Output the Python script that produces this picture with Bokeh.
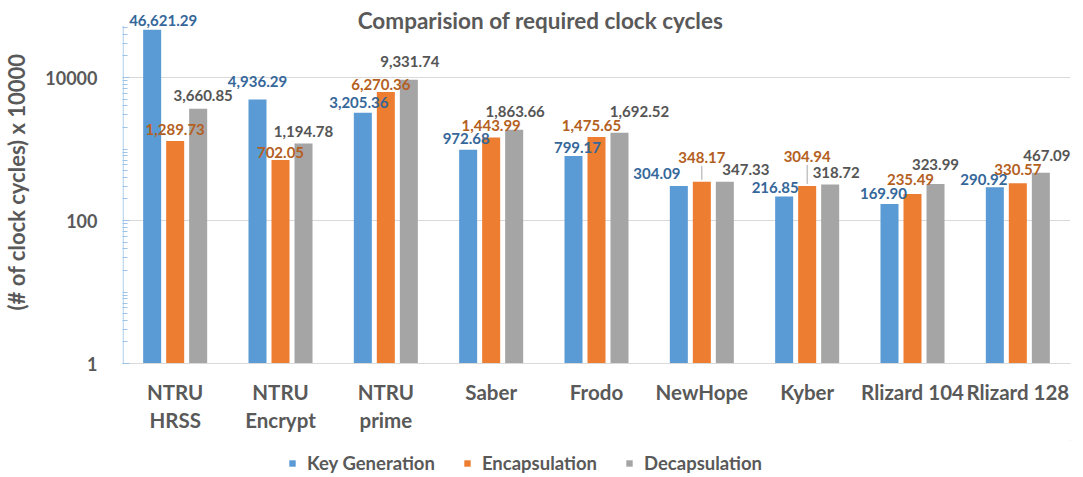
from bokeh.plotting import figure
from bokeh.layouts import column
from bokeh.models import (ColumnDataSource, FactorRange, Range1d, FixedTicker, LabelSet,
                          Label, Legend, LegendItem, BasicTickFormatter)
from bokeh.transform import dodge
from bokeh.core.properties import value
from bokeh.embed import file_html
from bokeh.resources import INLINE

# --- data -------------------------------------------------------------------
categories = ["NTRU\nHRSS", "NTRU\nEncrypt", "NTRU\nprime", "Saber", "Frodo",
              "NewHope", "Kyber", "Rlizard 104", "Rlizard 128"]
series_names = ["Key Generation", "Encapsulation", "Decapsulation"]
key_generation = [46621.29, 4936.29, 3205.36, 972.68, 799.17, 304.09, 216.85, 169.90, 290.92]
encapsulation = [1289.73, 702.05, 6270.36, 1443.99, 1475.65, 348.17, 304.94, 235.49, 330.57]
decapsulation = [3660.85, 1194.78, 9331.74, 1863.66, 1692.52, 347.33, 318.72, 323.99, 467.09]
y_ticks = [1, 100, 10000]
axis_top = 53000

# --- styling ----------------------------------------------------------------
FONT = "Lato"
TEXT = "#595959"
AXIS_BLUE = "#9dc3e6"
bar_colors = ["#5b9bd5", "#ed7d31", "#a5a5a5"]
label_colors = ["#35679a", "#b45f22", "#555555"]
bar_width = 0.171
shifts = [-0.2184, 0.0, 0.2184]

W = 1083
CHART_H, LEGEND_H = 440, 37
BORDER_L, BORDER_R, BORDER_B = 122, 13, 77
PX_PER_DECADE = 71.5
frame_h = CHART_H - BORDER_B
y_end = 10 ** (frame_h / PX_PER_DECADE)

# per-label nudges (pixels) so the value labels don't collide
label_dx = [
    [11, 0, -4, -2, 4, -22, -9, -6, -11],
    [0, 0, -5, 0, -5, 0, 0, -2, 0],
    [5, 0, 1, 1, 20, 21, 6, 0, 6],
]
label_dy = [
    [9, 18, 10, 11, 8, 12, 9, 11, 8],
    [12, 7, 7, 12, 11, 24, 29, 14, 14],
    [13, 12, 18, 18, 21, 12, 12, 19, 17],
]

p = figure(width=W, height=CHART_H, x_range=FactorRange(factors=categories, range_padding=0),
           y_range=Range1d(1, y_end), y_axis_type="log",
           output_backend="svg", toolbar_location=None,
           min_border_left=BORDER_L, min_border_right=BORDER_R, min_border_top=0,
           min_border_bottom=BORDER_B)
p.outline_line_color = None
p.background_fill_color = "white"
p.border_fill_color = "white"

renderers = []
for k, vals in enumerate([key_generation, encapsulation, decapsulation]):
    src = ColumnDataSource(dict(
        cat=categories, val=vals,
        txt=[f"{v:,.2f}" for v in vals],
        dx=label_dx[k], dy=label_dy[k],
    ))
    r = p.vbar(x=dodge("cat", shifts[k], range=p.x_range), top="val", bottom=1,
               width=bar_width, source=src, fill_color=bar_colors[k], line_color=None)
    renderers.append(r)
    p.add_layout(LabelSet(x=dodge("cat", shifts[k], range=p.x_range), y="val", text="txt",
                          x_offset="dx", y_offset="dy", source=src,
                          text_align="center", text_baseline="middle",
                          text_font=value(FONT), text_font_style="bold",
                          text_font_size="15px", text_color=label_colors[k]))

# leader lines for the labels lifted well above their bars
lead_idx = [5, 6]
lead_src = ColumnDataSource(dict(
    cat=[categories[i] for i in lead_idx],
    y0=[encapsulation[i] * 10 ** (2 / PX_PER_DECADE) for i in lead_idx],
    y1=[encapsulation[i] * 10 ** ((label_dy[1][i] - 8) / PX_PER_DECADE) for i in lead_idx],
))
p.segment(x0="cat", x1="cat", y0="y0", y1="y1", source=lead_src,
          line_color="#a6a6a6", line_width=1)

# value axis line, stopping at the top of the scale
p.segment(x0=[0.006], x1=[0.006], y0=[1], y1=[axis_top], line_color=AXIS_BLUE, line_width=1)

minor = [m * 10 ** d for d in range(5) for m in range(1, 10)
         if m * 10 ** d not in y_ticks and m * 10 ** d <= axis_top]
p.yaxis.ticker = FixedTicker(ticks=y_ticks, minor_ticks=minor)
p.yaxis.formatter = BasicTickFormatter(use_scientific=False)
p.yaxis.axis_line_color = None
p.yaxis.major_tick_line_color = AXIS_BLUE
p.yaxis.minor_tick_line_color = AXIS_BLUE
p.yaxis.major_tick_in = 7
p.yaxis.major_tick_out = 0
p.yaxis.minor_tick_in = 5
p.yaxis.minor_tick_out = 0
p.yaxis.major_label_text_font = FONT
p.yaxis.major_label_text_font_style = "bold"
p.yaxis.major_label_text_font_size = "18px"
p.yaxis.major_label_text_color = TEXT
p.yaxis.major_label_standoff = 25
p.yaxis.axis_label = "(# of clock cycles) x 10000"
p.yaxis.axis_label_text_font = FONT
p.yaxis.axis_label_text_font_style = "bold"
p.yaxis.axis_label_text_font_size = "22px"
p.yaxis.axis_label_text_color = TEXT
p.yaxis.axis_label_standoff = 12

p.xaxis.axis_line_color = "#d9d9d9"
p.xaxis.major_tick_line_color = None
p.xaxis.minor_tick_line_color = None
p.xaxis.major_label_text_font = FONT
p.xaxis.major_label_text_font_style = "bold"
p.xaxis.major_label_text_font_size = "20.5px"
p.xaxis.major_label_text_color = TEXT
p.xaxis.major_label_standoff = 10

p.xgrid.grid_line_color = None
p.ygrid.ticker = FixedTicker(ticks=[100, 10000])
p.ygrid.grid_line_color = "#d9d9d9"

# title (inside the frame's top band)
p.add_layout(Label(x=418, y=frame_h - 20, x_units="screen", y_units="screen",
                   text="Comparision of required clock cycles", text_align="center",
                   text_baseline="middle", text_font=FONT, text_font_style="bold",
                   text_font_size="22.5px", text_color=TEXT))

# legend strip under the chart; swatch renderers sit outside the visible range
leg = figure(width=W, height=LEGEND_H, x_range=Range1d(0, 1), y_range=Range1d(0, 1),
             output_backend="svg", toolbar_location=None,
             x_axis_location=None, y_axis_location=None,
             min_border_left=0, min_border_right=0, min_border_top=0, min_border_bottom=0)
leg.outline_line_color = None
leg.grid.visible = False
leg.background_fill_color = "white"
leg.border_fill_color = "white"
swatches = [leg.vbar(x=[5], top=[5], bottom=[4], width=0.1, fill_color=c, line_color=None)
            for c in bar_colors]
legend = Legend(items=[LegendItem(label=n, renderers=[r]) for n, r in zip(series_names, swatches)],
                orientation="horizontal", location=(166, 3),
                glyph_width=8, glyph_height=8, label_standoff=11, spacing=28,
                padding=0, margin=0, border_line_color=None, background_fill_alpha=0,
                label_text_font=FONT, label_text_font_style="bold",
                label_text_font_size="18.5px", label_text_color=TEXT)
leg.add_layout(legend, "center")

open("out.html", "w").write(file_html(column(p, leg), INLINE))
